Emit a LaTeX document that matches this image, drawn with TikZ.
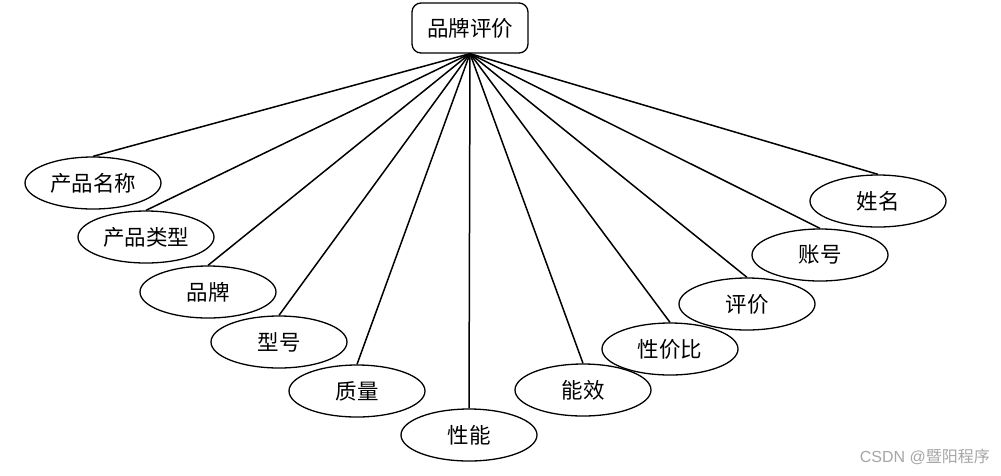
\documentclass[tikz,border=0pt]{standalone}
\usepackage{fontspec}
\setmainfont{Liberation Sans}
\newfontfamily\cjk{Noto Sans CJK SC}
\usetikzlibrary{shapes.geometric}
\begin{document}
\begin{tikzpicture}[x=1pt,y=-1pt,
  attr/.style={draw,line width=1.3pt,ellipse,minimum width=136pt,minimum height=52pt,inner sep=0pt,font=\cjk\fontsize{21.5}{24}\selectfont},
  rootbox/.style={draw,line width=1.3pt,rounded corners=9pt,minimum width=116pt,minimum height=50pt,inner sep=0pt,font=\cjk\fontsize{21.5}{24}\selectfont},
  link/.style={line width=1.5pt}]
\useasboundingbox (0,0) rectangle (1001,475);
\fill[white] (0,0) rectangle (1001,475);
\node[rootbox] (root) at (470,28) {品牌评价};
\node[attr] (a1) at (93,183) {产品名称};
\node[attr] (a2) at (146,237) {产品类型};
\node[attr] (a3) at (208,292) {品牌};
\node[attr] (a4) at (279,342) {型号};
\node[attr] (a5) at (357,391) {质量};
\node[attr] (a6) at (469,435) {性能};
\node[attr] (a7) at (583,390) {能效};
\node[attr] (a8) at (670,349) {性价比};
\node[attr] (a9) at (747,304) {评价};
\node[attr] (a10) at (820,255) {账号};
\node[attr] (a11) at (878,201) {姓名};
\foreach \i in {1,...,11} \draw[link] (root.south) -- (a\i.north);
\node[text=black!35,font=\fontsize{16}{18}\selectfont,anchor=east,inner sep=0pt] (wm) at (990,457) {CSDN @{\cjk 暨阳程序}};
\end{tikzpicture}
\end{document}
